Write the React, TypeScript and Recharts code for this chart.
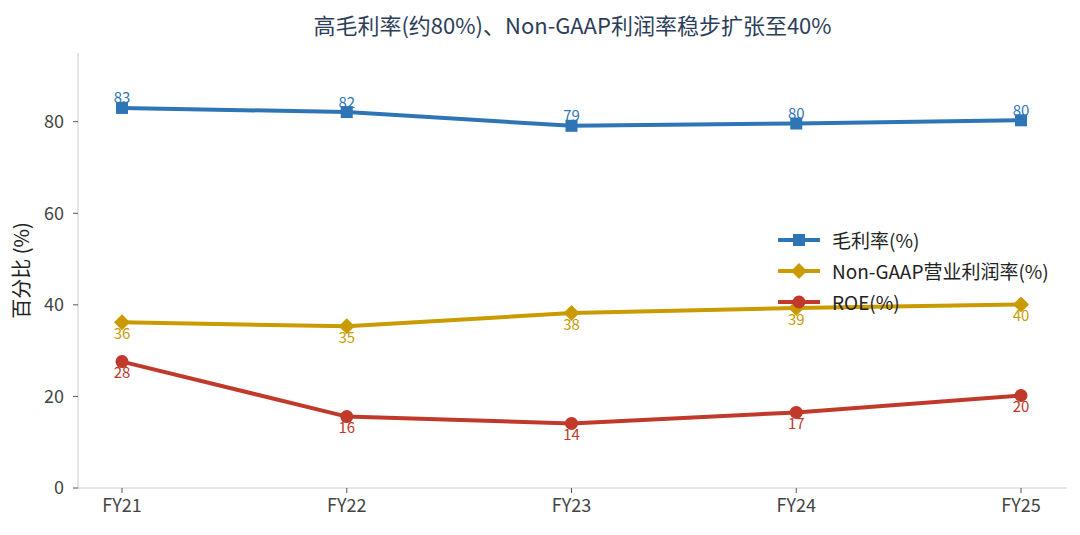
import { LineChart, Line, XAxis, YAxis, LabelList } from "recharts";

const years = ["FY21", "FY22", "FY23", "FY24", "FY25"];
const grossMargin = [83.0, 82.1, 79.1, 79.6, 80.3];
const nonGaapMargin = [36.2, 35.3, 38.2, 39.3, 40.1];
const roe = [27.6, 15.6, 14.1, 16.5, 20.2];
const yTicks = [0, 20, 40, 60, 80];

const BLUE = "#2e75b6";
const GOLD = "#c99b00";
const RED = "#c0392b";
const FONT = '"Noto Sans CJK SC", "Noto Sans", sans-serif';

const chartData = years.map((year, i) => ({
  year,
  gross: grossMargin[i],
  nonGaap: nonGaapMargin[i],
  roe: roe[i],
}));

const series = [
  { key: "gross", name: "毛利率(%)", color: BLUE, shape: "square" },
  { key: "nonGaap", name: "Non-GAAP营业利润率(%)", color: GOLD, shape: "diamond" },
  { key: "roe", name: "ROE(%)", color: RED, shape: "circle" },
];

function Marker({ cx, cy, shape, color }: any) {
  if (cx == null || cy == null) return null;
  if (shape === "square")
    return <rect x={cx - 6} y={cy - 6} width={12} height={12} fill={color} />;
  if (shape === "diamond")
    return (
      <polygon
        points={`${cx},${cy - 8} ${cx + 8},${cy} ${cx},${cy + 8} ${cx - 8},${cy}`}
        fill={color}
      />
    );
  return <circle cx={cx} cy={cy} r={6.5} fill={color} />;
}

function makeLabel(color: string, dy: number) {
  return (props: any) => {
    const { x, y, value } = props;
    return (
      <text
        x={x}
        y={y + dy}
        fill={color}
        fontSize={15}
        fontFamily={FONT}
        textAnchor="middle"
        dominantBaseline="central"
      >
        {Math.round(value)}
      </text>
    );
  };
}

// legend sits on top of the plot, like the original
function LegendBox() {
  return (
    <div
      style={{
        position: "absolute",
        left: 778,
        top: 224,
        fontFamily: FONT,
        fontSize: 19,
        color: "#222",
      }}
    >
      {series.map((s) => (
        <div key={s.key} style={{ display: "flex", alignItems: "center", height: 31 }}>
          <svg width={54} height={20}>
            <line x1={0} y1={10} x2={42} y2={10} stroke={s.color} strokeWidth={4} />
            <Marker cx={21} cy={10} shape={s.shape} color={s.color} />
          </svg>
          <span style={{ whiteSpace: "nowrap" }}>{s.name}</span>
        </div>
      ))}
    </div>
  );
}

export default function App() {
  return (
    <div
      style={{
        position: "absolute",
        left: 0,
        top: 0,
        width: 1080,
        height: 535,
        background: "#fff",
        fontFamily: FONT,
      }}
    >
      <div
        style={{
          position: "absolute",
          left: 78,
          width: 989,
          top: 8,
          textAlign: "center",
          fontSize: 22,
          color: "#2c3e5a",
          lineHeight: "32px",
        }}
      >
        高毛利率(约80%)、Non-GAAP利润率稳步扩张至40%
      </div>
      <LineChart
        width={1080}
        height={535}
        data={chartData}
        margin={{ top: 53, right: 13, bottom: 17, left: 0 }}
      >
        <XAxis
          dataKey="year"
          height={30}
          padding={{ left: 44, right: 46 }}
          stroke="#cccccc"
          tickLine={{ stroke: "#555" }}
          tickSize={5}
          tickMargin={6}
          tick={{ fill: "#444", fontSize: 18, fontFamily: FONT }}
        />
        <YAxis
          width={78}
          domain={[0, 95]}
          ticks={yTicks}
          stroke="#cccccc"
          tickLine={{ stroke: "#555" }}
          tickSize={5}
          tickMargin={9}
          tick={{ fill: "#444", fontSize: 18, fontFamily: FONT }}
          label={{
            value: "百分比 (%)",
            angle: -90,
            position: "insideLeft",
            offset: 22,
            style: { textAnchor: "middle", fill: "#222", fontSize: 20, fontFamily: FONT },
          }}
        />
        {series.map((s) => (
          <Line
            key={s.key}
            dataKey={s.key}
            name={s.name}
            stroke={s.color}
            strokeWidth={4}
            isAnimationActive={false}
            dot={(p: any) => <Marker key={p.index} cx={p.cx} cy={p.cy} shape={s.shape} color={s.color} />}
            activeDot={false}
          >
            <LabelList
              dataKey={s.key}
              content={makeLabel(s.color, s.key === "gross" ? -11 : 10)}
            />
          </Line>
        ))}
      </LineChart>
      <LegendBox />
    </div>
  );
}
